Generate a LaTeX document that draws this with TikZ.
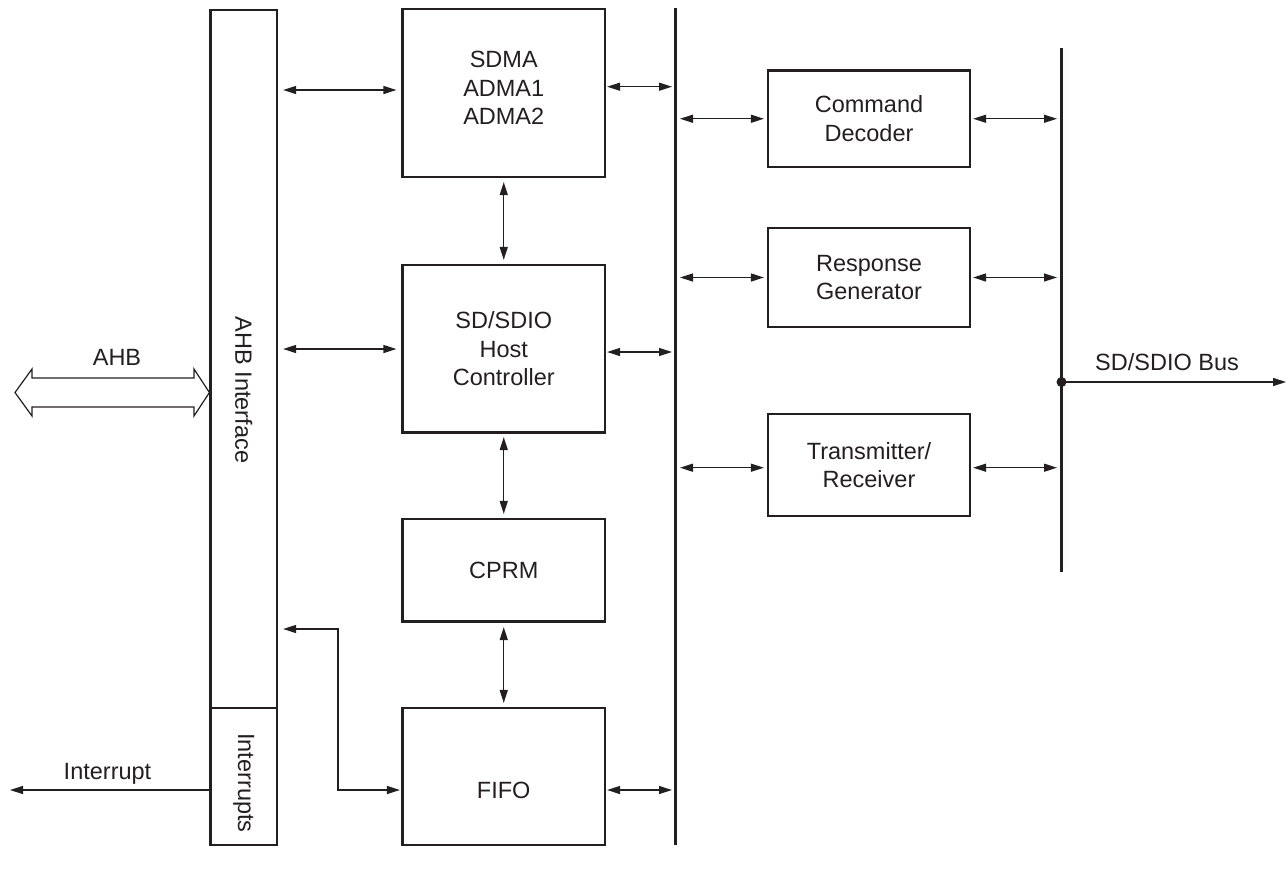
\documentclass[tikz,border=0pt]{standalone}
\usepackage{fontspec}
\setmainfont{Liberation Sans}
\usetikzlibrary{arrows.meta}
\definecolor{ink}{RGB}{35,31,32}
\begin{document}
\begin{tikzpicture}[x=1pt,y=-1pt,
  every node/.style={text=ink, font=\fontsize{23.5pt}{28.5pt}\selectfont, align=center},
  box/.style={draw=ink, line width=2.2pt, inner sep=0pt},
  lbox/.style={box, minimum width=202.5pt},
  rbox/.style={box, minimum width=202pt},
  tip/.style={Triangle[length=13pt,width=8pt]},
  link/.style={draw=ink, line width=1.3pt, {Triangle[length=13pt,width=8pt]}-{Triangle[length=13pt,width=8pt]}},
  single/.style={draw=ink, line width=1.3pt, -{Triangle[length=13pt,width=8pt]}},
  bus/.style={draw=ink, line width=3.6pt}]
\useasboundingbox (0,0) rectangle (1286,871);

% AHB interface column
\node[box, minimum width=66.5pt, minimum height=698pt] (ahbif) at (243.75,359) {};
\node[rotate=-90] (ahbift) at (243.75,390) {AHB Interface};
\node[box, minimum width=66.5pt, minimum height=137pt] (intr) at (243.75,776.5) {};
\node[rotate=-90] (intrt) at (243.75,783) {Interrupts};

% left column boxes
\node[lbox, minimum height=168pt] (sdma) at (503.75,93) {};
\node (sdmat) at (503.75,88) {SDMA\\ADMA1\\ADMA2};
\node[lbox, minimum height=167.5pt] (host) at (503.75,348.75) {SD/SDIO\\Host\\Controller};
\node[lbox, minimum height=102.5pt] (cprm) at (503.75,570.25) {CPRM};
\node[lbox, minimum height=137pt] (fifo) at (503.75,776.5) {};
\node (fifot) at (503.75,790) {FIFO};

% right column boxes
\node[rbox, minimum height=96.5pt] (cd) at (869,118.75) {Command\\Decoder};
\node[rbox, minimum height=99pt] (resp) at (869,277.5) {Response\\Generator};
\node[rbox, minimum height=102pt] (trx) at (869,465) {Transmitter/\\Receiver};

% buses
\coordinate (lbt) at (675.5,8);
\coordinate (lbb) at (675.5,845);
\draw[bus] (lbt) -- (lbb);
\coordinate (rbt) at (1061.5,48);
\coordinate (rbb) at (1061.5,572);
\draw[bus] (rbt) -- (rbb);

% AHB interface <-> blocks
\draw[link, shorten <=5pt, shorten >=5pt] (ahbif.east |- 0,90) -- (sdma.west |- 0,90);
\draw[link, shorten <=5pt, shorten >=5pt] (ahbif.east |- 0,349) -- (host.west |- 0,349);

% blocks <-> left bus
\draw[link, shorten <=1pt, shorten >=3.5pt] (sdma.east |- 0,86.7) -- (lbt |- 0,86.7);
\draw[link, shorten <=1pt, shorten >=3.5pt] (host.east |- 0,352) -- (lbt |- 0,352);
\draw[link, shorten <=1pt, shorten >=3.5pt] (fifo.east |- 0,790) -- (lbt |- 0,790);

% left bus <-> right boxes
\draw[link, shorten <=4.5pt, shorten >=3pt] (lbt |- cd.west) -- (cd.west);
\draw[link, shorten <=4.5pt, shorten >=3pt] (lbt |- resp.west) -- (resp.west);
\draw[link, shorten <=4.5pt, shorten >=3pt] (lbt |- 0,467.7) -- (trx.west |- 0,467.7);

% right boxes <-> right bus
\draw[link, shorten <=2pt, shorten >=4.5pt] (cd.east) -- (rbt |- cd.east);
\draw[link, shorten <=2pt, shorten >=4.5pt] (resp.east) -- (rbt |- resp.east);
\draw[link, shorten <=2pt, shorten >=4.5pt] (trx.east |- 0,467.7) -- (rbt |- 0,467.7);

% vertical links
\draw[link, shorten <=4pt, shorten >=4pt] (sdma.south) -- (host.north);
\draw[link, shorten <=3.5pt, shorten >=4pt] (host.south) -- (cprm.north);
\draw[link, shorten <=4.5pt, shorten >=4pt] (cprm.south) -- (fifo.north);

% elbow AHB interface <-> FIFO
\coordinate (e1) at (338,629);
\coordinate (e2) at (338,790);
\draw[link, shorten <=5pt, shorten >=1.5pt] (ahbif.east |- e1) -- (e1) -- (e2) -- (fifo.west |- e2);

% Interrupt output
\coordinate (intout) at (10,790);
\draw[single] (intr.west |- intout) -- (intout);
\node[anchor=base] (intl) at (107.5,779) {Interrupt};

% AHB double arrow
\coordinate (ahbl) at (15,392.5);
\draw[draw=ink, line width=1.2pt, line join=miter, fill=white]
  (ahbl) -- (32,369) -- (32,378) -- (194,378) -- (194,369) -- (ahbif.west |- ahbl)
  -- (194,416) -- (194,407) -- (32,407) -- (32,416) -- cycle;
\node[anchor=base] (ahbl-t) at (117,365.5) {AHB};

% SD/SDIO bus output
\coordinate (sdj) at (1061.5,382);
\coordinate (sdout) at (1286,382);
\fill[ink] (sdj) circle (5pt);
\draw[single] (sdj) -- (sdout);
\node[anchor=base] (sdl) at (1167,370) {SD/SDIO Bus};
\end{tikzpicture}
\end{document}
